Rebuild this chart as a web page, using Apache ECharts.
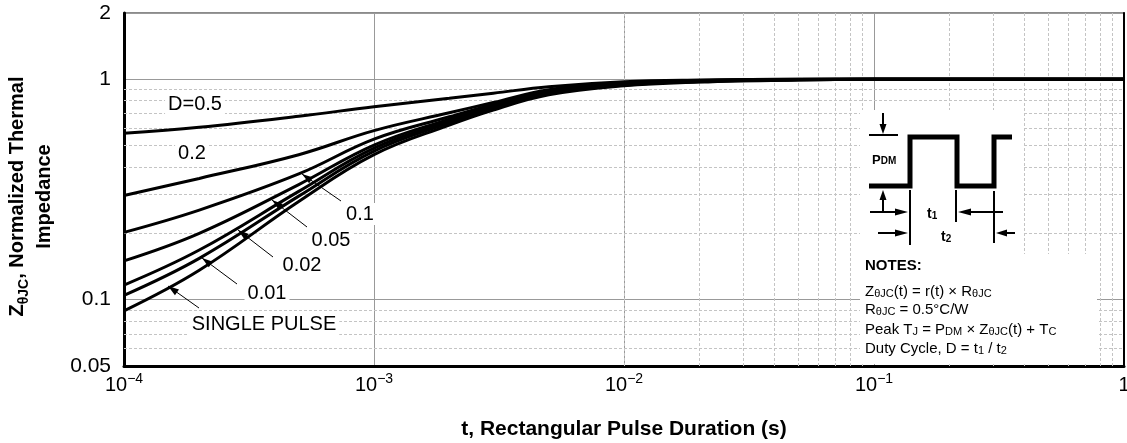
<!DOCTYPE html>
<html>
<head>
<meta charset="utf-8">
<script src="https://cdn.jsdelivr.net/npm/echarts@6/dist/echarts.min.js"></script>
<style>
  html, body { margin: 0; padding: 0; background: #fff; }
  #chart { width: 1127px; height: 443px; }
</style>
</head>
<body>
<div id="chart"></div>
<script>
// pulse duration t (s)
var pulseTimes = [1e-4, 2e-4, 5e-4, 1e-3, 2e-3, 3e-3, 5e-3, 1e-2, 2e-2, 5e-2, 1e-1, 1];
// normalized thermal impedance for each duty cycle
var zD05 = [0.569, 0.606, 0.68, 0.751, 0.82, 0.865, 0.926, 0.975, 0.992, 1.0, 1.0, 1.0];
var zD02 = [0.297, 0.355, 0.455, 0.585, 0.705, 0.785, 0.898, 0.962, 0.988, 1.0, 1.0, 1.0];
var zD01 = [0.202, 0.255, 0.372, 0.535, 0.676, 0.77, 0.888, 0.956, 0.985, 0.998, 1.0, 1.0];
var zD005 = [0.150, 0.200, 0.333, 0.503, 0.66, 0.757, 0.879, 0.951, 0.982, 0.997, 1.0, 1.0];
var zD002 = [0.1165, 0.168, 0.31, 0.487, 0.647, 0.746, 0.870, 0.946, 0.979, 0.996, 1.0, 1.0];
var zD001 = [0.1046, 0.154, 0.295, 0.472, 0.634, 0.737, 0.860, 0.941, 0.976, 0.995, 1.0, 1.0];
var zSingle = [0.089, 0.136, 0.279, 0.455, 0.620, 0.726, 0.851, 0.935, 0.972, 0.994, 1.0, 1.0];

// minor (dashed) grid positions
var xMinor = [2e-4, 3e-4, 4e-4, 5e-4, 6e-4, 7e-4, 8e-4, 9e-4,
  2e-3, 3e-3, 4e-3, 5e-3, 6e-3, 7e-3, 8e-3, 9e-3,
  2e-2, 3e-2, 4e-2, 5e-2, 6e-2, 7e-2, 8e-2, 9e-2,
  0.2, 0.3, 0.4, 0.5, 0.6, 0.7, 0.8, 0.9];
var yMinor = [0.06, 0.07, 0.08, 0.09, 0.2, 0.3, 0.4, 0.5, 0.6, 0.7, 0.8, 0.9];

var FONT = 'Liberation Sans, Arial, sans-serif';

function pairs(ys) {
  return pulseTimes.map(function (t, i) { return [t, ys[i]]; });
}

function curve(name, ys) {
  return {
    name: name,
    type: 'line',
    data: pairs(ys),
    smooth: 0.4,
    symbol: 'none',
    z: 5,
    lineStyle: { color: '#000', width: 3 }
  };
}

// arrow head polygon (tip at x,y, pointing along angle)
function head(x, y, ang, len, w) {
  var bx = x - len * Math.cos(ang), by = y - len * Math.sin(ang);
  var px = -Math.sin(ang) * w, py = Math.cos(ang) * w;
  return {
    type: 'polygon', z: 20,
    shape: { points: [[x, y], [bx + px, by + py], [bx - px, by - py]] },
    style: { fill: '#000' }
  };
}
function leader(x1, y1, x2, y2) {
  var ang = Math.atan2(y2 - y1, x2 - x1);
  return [
    { type: 'line', z: 20, shape: { x1: x1, y1: y1, x2: x2, y2: y2 }, style: { stroke: '#000', lineWidth: 1 } },
    head(x2, y2, ang, 11, 3.5)
  ];
}
function label(txt, x, y) {
  return {
    type: 'text', z: 21, x: x, y: y,
    style: {
      text: txt, font: '20px ' + FONT, fill: '#000',
      align: 'center', verticalAlign: 'middle',
      backgroundColor: '#fff', padding: [1, 3]
    }
  };
}

var subRich = {
  s: { fontSize: 11, fontFamily: FONT, verticalAlign: 'bottom', lineHeight: 12, padding: [7, 0, 0, 0] }
};
var boldSub = {
  s: { fontSize: 10, fontFamily: FONT, fontWeight: 'bold', verticalAlign: 'bottom', lineHeight: 10, padding: [6, 0, 0, 0] }
};

var graphics = [];
// white boxes of the inset
graphics.push({ type: 'rect', z: 15, shape: { x: 860, y: 110, width: 162, height: 145 }, style: { fill: '#fff' } });
graphics.push({ type: 'rect', z: 15, shape: { x: 860, y: 254, width: 237, height: 110 }, style: { fill: '#fff' } });
// pulse waveform
graphics.push({
  type: 'polyline', z: 20,
  shape: { points: [[869, 186], [910, 186], [910, 137], [957, 137], [957, 186], [994, 186], [994, 137], [1012, 137]] },
  style: { stroke: '#000', lineWidth: 5, fill: null, lineJoin: 'miter' }
});
graphics.push({ type: 'line', z: 20, shape: { x1: 869, y1: 135, x2: 898, y2: 135 }, style: { stroke: '#000', lineWidth: 2 } });
graphics.push({ type: 'line', z: 20, shape: { x1: 883, y1: 113, x2: 883, y2: 126 }, style: { stroke: '#000', lineWidth: 2 } });
graphics.push(head(883, 134, Math.PI / 2, 10, 3.5));
graphics.push({ type: 'line', z: 20, shape: { x1: 883, y1: 198, x2: 883, y2: 213 }, style: { stroke: '#000', lineWidth: 2 } });
graphics.push(head(883, 190, -Math.PI / 2, 10, 3.5));
// t markers
graphics.push({ type: 'line', z: 20, shape: { x1: 910, y1: 190, x2: 910, y2: 245 }, style: { stroke: '#000', lineWidth: 2 } });
graphics.push({ type: 'line', z: 20, shape: { x1: 956, y1: 190, x2: 956, y2: 222 }, style: { stroke: '#000', lineWidth: 2 } });
graphics.push({ type: 'line', z: 20, shape: { x1: 994, y1: 191, x2: 994, y2: 243 }, style: { stroke: '#000', lineWidth: 2 } });
graphics.push({ type: 'line', z: 20, shape: { x1: 870, y1: 212, x2: 898, y2: 212 }, style: { stroke: '#000', lineWidth: 2 } });
graphics.push(head(908, 212, 0, 13, 3.5));
graphics.push({ type: 'line', z: 20, shape: { x1: 1003, y1: 212, x2: 968, y2: 212 }, style: { stroke: '#000', lineWidth: 2 } });
graphics.push(head(958, 212, Math.PI, 13, 3.5));
graphics.push({ type: 'line', z: 20, shape: { x1: 878, y1: 233, x2: 898, y2: 233 }, style: { stroke: '#000', lineWidth: 2 } });
graphics.push(head(908, 233, 0, 13, 3.5));
graphics.push({ type: 'line', z: 20, shape: { x1: 1015, y1: 233, x2: 1005, y2: 233 }, style: { stroke: '#000', lineWidth: 2 } });
graphics.push(head(996, 233, Math.PI, 11, 3.5));
graphics.push({ type: 'text', z: 21, x: 872, y: 160, style: { text: 'P{s|DM}', font: 'bold 13px ' + FONT, verticalAlign: 'middle', rich: boldSub } });
graphics.push({ type: 'text', z: 21, x: 927, y: 214, style: { text: 't{s|1}', font: 'bold 14px ' + FONT, verticalAlign: 'middle', rich: boldSub } });
graphics.push({ type: 'text', z: 21, x: 941, y: 237, style: { text: 't{s|2}', font: 'bold 14px ' + FONT, verticalAlign: 'middle', rich: boldSub } });
// notes
graphics.push({ type: 'text', z: 21, x: 865, y: 266, style: { text: 'NOTES:', font: 'bold 15px ' + FONT, verticalAlign: 'middle' } });
var notes = [
  ['Z{s|θJC}(t) = r(t) × R{s|θJC}', 292],
  ['R{s|θJC} = 0.5°C/W', 310],
  ['Peak T{s|J} = P{s|DM} × Z{s|θJC}(t) + T{s|C}', 330],
  ['Duty Cycle, D = t{s|1} / t{s|2}', 349]
];
notes.forEach(function (n) {
  graphics.push({ type: 'text', z: 21, x: 865, y: n[1], style: { text: n[0], font: '15px ' + FONT, verticalAlign: 'middle', rich: subRich } });
});
// curve labels and leaders
graphics.push(label('D=0.5', 195, 104));
graphics.push(label('0.2', 192, 153));
graphics = graphics.concat(leader(341, 201, 302, 174));
graphics.push(label('0.1', 360, 214));
graphics = graphics.concat(leader(307, 227, 272, 200));
graphics.push(label('0.05', 331, 240));
graphics = graphics.concat(leader(273, 257, 238, 230));
graphics.push(label('0.02', 302, 265));
graphics = graphics.concat(leader(237, 284, 202, 258));
graphics.push(label('0.01', 267, 293));
graphics = graphics.concat(leader(199, 308, 168, 286));
graphics.push(label('SINGLE PULSE', 264, 324));

var chart = echarts.init(document.getElementById('chart'));
var option = {
  animation: false,
  grid: {
    left: 124, right: 3, top: 13, bottom: 77,
    containLabel: false, outerBoundsMode: 'none',
    show: true, borderColor: '#666', borderWidth: 1.5
  },
  xAxis: {
    type: 'log', logBase: 10, min: 1e-4, max: 1,
    name: 't, Rectangular Pulse Duration (s)',
    nameLocation: 'middle', nameGap: 53,
    nameTextStyle: { fontFamily: FONT, fontSize: 21, fontWeight: 'bold', color: '#000' },
    axisLine: { show: true, lineStyle: { color: '#000', width: 3 } },
    axisTick: { show: false },
    splitLine: { show: true, lineStyle: { color: '#999', width: 1 } },
    axisLabel: {
      margin: 6, color: '#000',
      formatter: function (v) {
        if (v >= 1) return '{b|1}';
        var e = Math.round(Math.log10(v));
        return '{b|10}{sup|\u2212' + (-e) + '}';
      },
      rich: {
        b: { fontFamily: FONT, fontSize: 20, lineHeight: 26, color: '#000' },
        sup: { fontFamily: FONT, fontSize: 14, lineHeight: 15, verticalAlign: 'top', color: '#000' }
      }
    }
  },
  yAxis: [{
    type: 'log', logBase: 10, min: 0.05, max: 2,
    name: '{b|Z}{s|θJC}{b|, Normalized Thermal}\n{b|Impedance}',
    nameLocation: 'middle', nameRotate: 90, nameGap: 66,
    nameTextStyle: {
      align: 'center',
      padding: [0, 14, 0, 0],
      rich: {
        b: { fontFamily: FONT, fontSize: 20, fontWeight: 'bold', lineHeight: 27, color: '#000' },
        s: { fontFamily: FONT, fontSize: 14, fontWeight: 'bold', lineHeight: 16, verticalAlign: 'bottom', padding: [10, 0, 0, 0], color: '#000' }
      }
    },
    axisLine: { show: true, lineStyle: { color: '#000', width: 3 } },
    axisTick: { show: false },
    splitLine: { show: true, lineStyle: { color: '#999', width: 1 } },
    axisLabel: {
      margin: 13, color: '#000', fontFamily: FONT, fontSize: 21,
      formatter: function (v) { return String(+(+v).toPrecision(3)); }
    }
  }, {
    type: 'log', logBase: 10, min: 0.05, max: 2, position: 'right',
    axisLine: { show: true, lineStyle: { color: '#000', width: 2 } },
    axisTick: { show: false }, axisLabel: { show: false }, splitLine: { show: false }
  }],
  series: [
    {
      type: 'line', data: [], silent: true, z: 1,
      markLine: {
        silent: true, symbol: 'none', animation: false,
        label: { show: false },
        lineStyle: { color: '#c4c4c4', type: [3, 2], width: 1 },
        data: xMinor.map(function (v) { return { xAxis: v }; })
          .concat(yMinor.map(function (v) { return { yAxis: v }; }))
      }
    },
    curve('D=0.5', zD05),
    curve('0.2', zD02),
    curve('0.1', zD01),
    curve('0.05', zD005),
    curve('0.02', zD002),
    curve('0.01', zD001),
    curve('SINGLE PULSE', zSingle)
  ],
  graphic: graphics
};
chart.setOption(option);
</script>
</body>
</html>
